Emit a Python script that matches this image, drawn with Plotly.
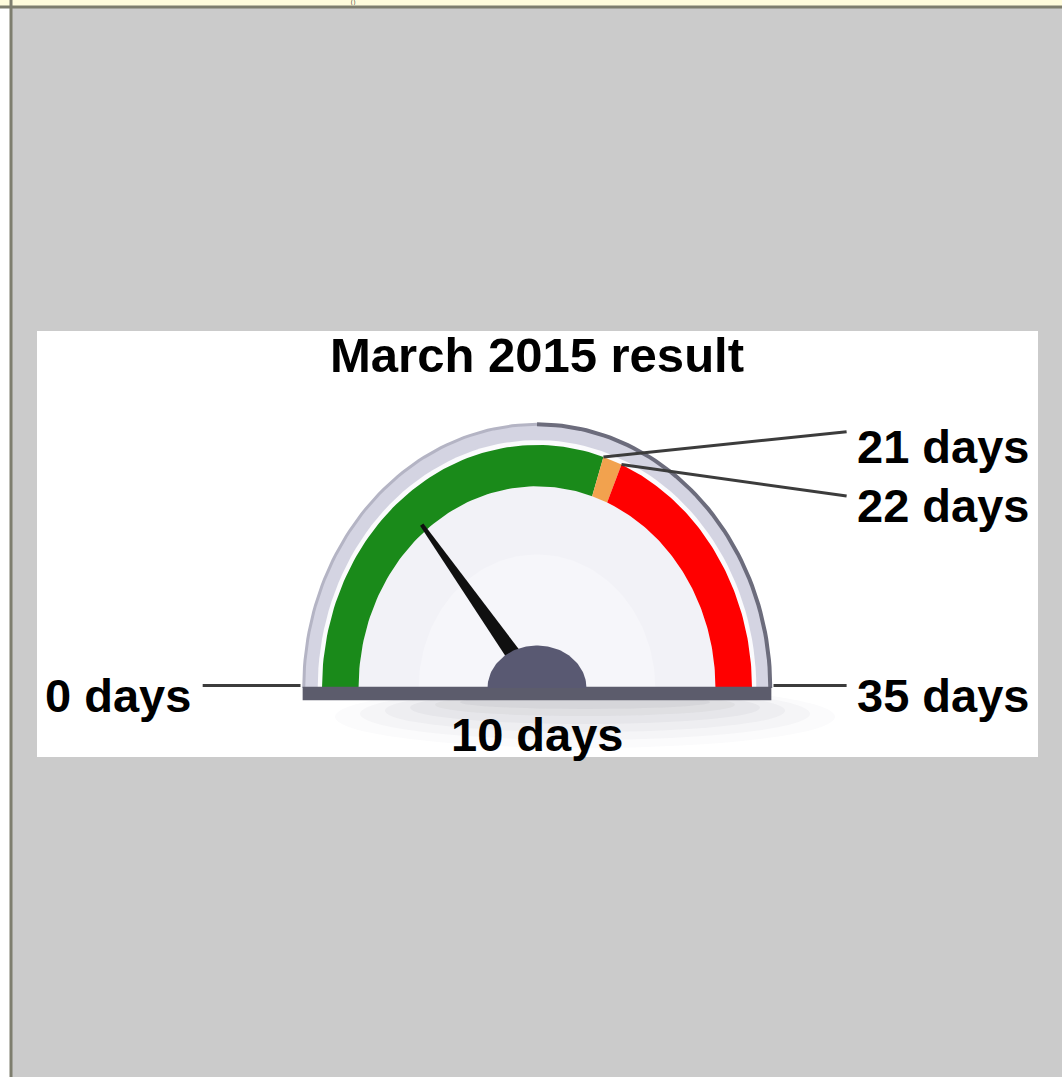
import numpy as np
import plotly.graph_objects as go

# chart data
title = "March 2015 result"
gauge_min = 0
gauge_max = 35
band_starts = [0, 21, 22]
band_ends = [21, 22, 35]
band_colors = ["#1a8a1a", "#f2a24e", "#ff0000"]
needle_value = 10
value_label = "10 days"
tick_values = [0, 21, 22, 35]
tick_labels = ["0 days", "21 days", "22 days", "35 days"]

W, H = 1062, 1077
CX, CY = 537, 688          # gauge centre in pixels
SX, SY = 215, 243          # pixels per gauge unit (image is stretched vertically)


def px(x):
    return x / W


def py(y):
    return 1 - y / H


def ang(v):
    return np.pi - (v - gauge_min) / (gauge_max - gauge_min) * np.pi


def ring(v0, v1, r0, r1, n=80):
    t = np.linspace(ang(v0), ang(v1), n)
    xs = np.concatenate([r1 * np.cos(t), r0 * np.cos(t[::-1])])
    ys = np.concatenate([r1 * np.sin(t), r0 * np.sin(t[::-1])])
    return list(xs) + [xs[0]], list(ys) + [ys[0]]


def half_ellipse(rx, ry, n=80):
    t = np.linspace(0, np.pi, n)
    return list(rx * np.cos(t)), list(ry * np.sin(t))


def filled(x, y, color, **kw):
    return go.Scatter(x=x, y=y, mode="lines", fill="toself", fillcolor=color,
                      line=kw.get("line", dict(width=0)), hoverinfo="skip")


fig = go.Figure()

# dial rim and face
x, y = ring(gauge_min, gauge_max, 0, 1.085)
fig.add_trace(filled(x, y, "#d4d4e2"))
x, y = ring(gauge_min, gauge_max, 0, 1.02)
fig.add_trace(filled(x, y, "#fbfbfd"))
x, y = ring(gauge_min, gauge_max, 0, 0.83)
fig.add_trace(filled(x, y, "#f2f2f7"))
x, y = ring(gauge_min, gauge_max, 0, 0.55)
fig.add_trace(filled(x, y, "#f6f6fa"))
t = np.linspace(ang(gauge_min), ang(gauge_max / 2), 60)
fig.add_trace(go.Scatter(x=1.085 * np.cos(t), y=1.085 * np.sin(t), mode="lines",
                         line=dict(color="#b4b4c4", width=3), hoverinfo="skip"))
t = np.linspace(ang(gauge_max / 2), ang(gauge_max), 60)
fig.add_trace(go.Scatter(x=1.085 * np.cos(t), y=1.085 * np.sin(t), mode="lines",
                         line=dict(color="#6c6c7c", width=4), hoverinfo="skip"))

# coloured bands
for s, e, c in zip(band_starts, band_ends, band_colors):
    x, y = ring(s, e, 0.83, 1.0)
    fig.add_trace(filled(x, y, c))

# base bar
fig.add_trace(filled([-1.09, 1.09, 1.09, -1.09, -1.09],
                     [0.005, 0.005, -0.05, -0.05, 0.005], "#5c5c6c"))

# needle (tapered bar, widths in pixels)
a = ang(needle_value)
dx, dy = np.cos(a) * SX, np.sin(a) * SY
nrm = np.hypot(dx, dy)
perp_x, perp_y = -dy / nrm / SX, dx / nrm / SY
r_base, r_tip = 0.12, 0.86
bx, by = r_base * np.cos(a), r_base * np.sin(a)
tx, ty = r_tip * np.cos(a), r_tip * np.sin(a)
wb, wt = 8, 2
fig.add_trace(filled([tx + perp_x * wt, bx + perp_x * wb, bx - perp_x * wb, tx - perp_x * wt, tx + perp_x * wt],
                     [ty + perp_y * wt, by + perp_y * wb, by - perp_y * wb, ty - perp_y * wt, ty + perp_y * wt],
                     "#101010"))

# hub
x, y = half_ellipse(0.23, 0.175)
fig.add_trace(filled(x, y, "#595972"))

# leader lines and tick labels
label_pos = {0: (-1.555, 0.01), 21: (1.44, 1.055), 22: (1.44, 0.79), 35: (1.44, 0.01)}
for v, lab in zip(tick_values, tick_labels):
    lx, ly = label_pos[v]
    if v in (gauge_min, gauge_max):
        sx = -1.10 if v == gauge_min else 1.10
        sy = 0.01
    else:
        sx, sy = 1.0 * np.cos(ang(v)), 1.0 * np.sin(ang(v))
    fig.add_trace(go.Scatter(x=[sx, lx], y=[sy, ly], mode="lines",
                             line=dict(color="#3c3c3c", width=3), hoverinfo="skip"))
    fig.add_annotation(x=lx, y=ly - 0.04 if v != 21 else ly - 0.06,
                       text="<b>" + lab + "</b>", showarrow=False,
                       xanchor="right" if v == gauge_min else "left",
                       xshift=-10 if v == gauge_min else 8,
                       font=dict(family="Liberation Sans", size=47, color="black"))

fig.add_annotation(x=0, y=-0.19, text="<b>" + value_label + "</b>", showarrow=False,
                   font=dict(family="Liberation Sans", size=47, color="black"))
fig.add_annotation(x=0, y=1.37, text="<b>" + title + "</b>", showarrow=False,
                   font=dict(family="Liberation Sans", size=49, color="black"))

# page frame
shapes = [
    dict(type="rect", xref="paper", yref="paper", x0=0, x1=1, y0=py(6), y1=1,
         fillcolor="#fffcdc", line=dict(width=0), layer="below"),
    dict(type="rect", xref="paper", yref="paper", x0=0, x1=px(10), y0=0, y1=py(6),
         fillcolor="white", line=dict(width=0), layer="below"),
    dict(type="rect", xref="paper", yref="paper", x0=px(37), x1=px(1038),
         y0=py(757), y1=py(331), fillcolor="white", line=dict(width=0), layer="below"),
    dict(type="line", xref="paper", yref="paper", x0=0, x1=1, y0=py(7), y1=py(7),
         line=dict(color="#7e7e6e", width=3), layer="above"),
    dict(type="line", xref="paper", yref="paper", x0=px(11), x1=px(11), y0=0, y1=1,
         line=dict(color="#7e7e6e", width=3), layer="above"),
]
# soft shadow under the dial
for w, h, op in [(250, 50, 0.02), (225, 42, 0.03), (200, 34, 0.035),
                 (175, 26, 0.04), (150, 18, 0.045), (125, 11, 0.05)]:
    shapes.append(dict(type="circle", xref="paper", yref="paper",
                       x0=px(585 - w), x1=px(585 + w), y0=py(698 + h), y1=py(698 - h / 4),
                       fillcolor="rgba(60,60,80,%s)" % op, line=dict(width=0), layer="below"))

fig.add_annotation(x=px(350), y=py(6), xref="paper", yref="paper", text="( )",
                   showarrow=False, yanchor="bottom", borderpad=0,
                   font=dict(size=5, color="black"))

fig.update_layout(
    width=W, height=H,
    margin=dict(l=0, r=0, t=0, b=0),
    paper_bgcolor="#cbcbcb",
    plot_bgcolor="rgba(0,0,0,0)",
    showlegend=False,
    shapes=shapes,
    xaxis=dict(range=[-CX / SX, (W - CX) / SX], visible=False, fixedrange=True),
    yaxis=dict(range=[-(H - CY) / SY, CY / SY], visible=False, fixedrange=True),
)

fig.write_html("out.html", config={"displayModeBar": False},
               post_script="document.body.style.margin='0';")
